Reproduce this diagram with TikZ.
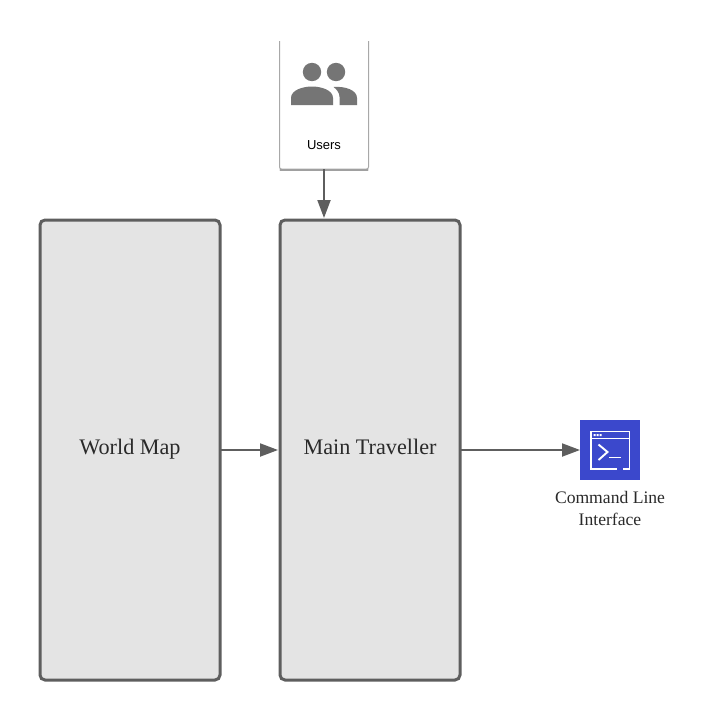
\documentclass[tikz,border=0pt]{standalone}
\usepackage{fontspec}
\setmainfont{Liberation Serif}
\newfontfamily\cardfont{Liberation Sans}
\usetikzlibrary{arrows.meta}
\definecolor{edgegray}{HTML}{5E5E5E}
\definecolor{boxfill}{HTML}{E4E4E4}
\definecolor{iconblue}{HTML}{3B48CC}
\definecolor{icongray}{HTML}{757575}
\definecolor{cardline}{HTML}{A8A8A8}
\definecolor{cardshadow}{HTML}{A0A0A0}
\definecolor{labelgray}{HTML}{2A2A2A}
\tikzset{
  bigbox/.style={draw=edgegray,fill=boxfill,line width=3pt,rounded corners=5pt,minimum width=180pt,minimum height=460pt,inner sep=0pt,outer sep=0pt,text=labelgray,font=\fontsize{22.2}{26}\selectfont},
  conn/.style={draw=edgegray,line width=2pt,-{Triangle[length=18pt,width=13pt]},shorten >=2pt},
  iconline/.style={draw=white,line width=1.6pt},
  clilabel/.style={text=labelgray,font=\fontsize{17.6}{21.5}\selectfont,align=center,inner sep=0pt},
}
\begin{document}
\begin{tikzpicture}[x=1pt,y=-1pt]
\useasboundingbox (0,0) rectangle (710,720);
\fill[white] (0,0) rectangle (710,720);
% Users card
\node[minimum width=89pt,minimum height=128pt,inner sep=0pt,outer sep=0pt] (users) at (324,105) {};
\draw[cardline,line width=1pt,rounded corners=2pt] (users.north west) -- (users.south west) -- (users.south east) -- (users.north east);
\draw[cardshadow,line width=2.5pt,line cap=round] ([xshift=1pt,yshift=-1pt]users.south west) -- ([xshift=-1pt,yshift=-1pt]users.south east);
\fill[icongray] (312,72) circle (9.2) (336,72) circle (9.2);
\fill[icongray] (291,105) -- (291,98) .. controls (291,90) and (303,86.5) .. (312,86.5) .. controls (321,86.5) and (333,90) .. (333,98) -- (333,105) -- cycle;
\fill[icongray] (339.5,105) -- (339.5,97) .. controls (339.5,93) and (337,89.5) .. (333.5,87) .. controls (345,86) and (357,90) .. (357,98) -- (357,105) -- cycle;
\node[font=\cardfont\fontsize{13}{15}\selectfont,text=black,inner sep=0pt] (userslabel) at (324,145) {Users};
% Big boxes
\node[bigbox] (wm) at (130,450) {\raisebox{6.5pt}{World Map}};
\node[bigbox] (mt) at (370,450) {\raisebox{6.5pt}{Main Traveller}};
% CLI icon
\node[fill=iconblue,minimum size=60pt,inner sep=0pt,outer sep=0pt] (cli) at (610,450) {};
\draw[iconline] (617,469) -- (591,469) -- (591,431.5) -- (629.5,431.5) -- (629.5,469) -- (623,469);
\draw[iconline] (591,438.5) -- (629.5,438.5);
\draw[iconline,line width=1.9pt] (598.5,444.5) -- (607.5,452) -- (598.5,460);
\draw[iconline,line width=1.9pt] (609,457.5) -- (621,457.5);
\fill[white] (593.5,434) rectangle (595.5,436.2) (596.5,434) rectangle (598.5,436.2) (599.5,434) rectangle (601.5,436.2);
\node[clilabel] (clilabel) at (610,508.3) {Command Line\\Interface};
% Connectors
\draw[conn] (users.south) -- (users.south |- mt.north);
\draw[conn] (wm.east) -- (mt.west);
\draw[conn,shorten >=0pt] (mt.east) -- (cli.west);
\end{tikzpicture}
\end{document}
